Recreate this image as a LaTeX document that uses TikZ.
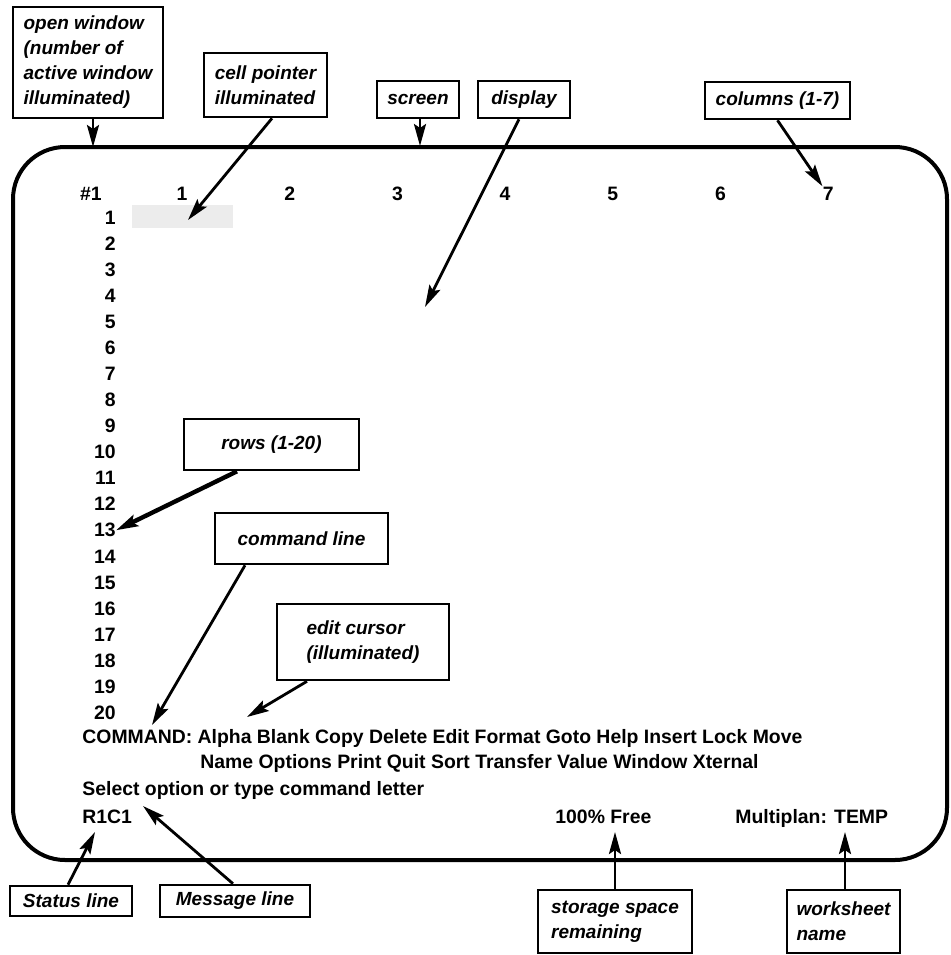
\documentclass[tikz,border=0pt]{standalone}
\usepackage{fontspec}
\setmainfont{Liberation Sans}
\usetikzlibrary{arrows.meta}

\tikzset{
  callout/.style={draw, line width=1.3pt, inner sep=0pt, align=left,
    font=\fontsize{9.5}{12.5}\selectfont\bfseries\itshape},
  scrtxt/.style={inner sep=0pt, font=\fontsize{9.7}{12}\selectfont\bfseries},
  pointer/.style={line width=1.4pt, -{Stealth[length=11pt, width=6pt, inset=2pt]}},
}

\begin{document}
\begin{tikzpicture}[x=0.5pt, y=-0.5pt]
\useasboundingbox (0,0) rectangle (951,955);

% screen outline
\draw[line width=2pt, rounded corners=26pt] (13,147) rectangle (947,860);

% illuminated cell pointer
\fill[gray!15] (132,205) rectangle (233,228);

% column heads
\node[scrtxt, anchor=base] (win) at (91,200) {\#1};
\foreach \c in {1,...,7}
  \node[scrtxt, anchor=base] (col\c) at ({182+107.7*(\c-1)},200) {\c};

% row numbers
\foreach \r in {1,...,20}
  \node[scrtxt, anchor=base east] (row\r) at (116,{224+26.08*(\r-1)}) {\r};

% command, message and status lines
\node[scrtxt, anchor=base west] (cmd) at (82,743)
{COMMAND: Alpha Blank Copy Delete Edit Format Goto Help Insert Lock Move};
\node[scrtxt, anchor=base west] (cmdtwo) at (200,768)
{Name Options Print Quit Sort Transfer Value Window Xternal};
\node[scrtxt, anchor=base west] (msg) at (82,795)
{Select option or type command letter};
\node[scrtxt, anchor=base west] (rc) at (82,823) {R1C1};
\node[scrtxt, anchor=base west] (free) at (555,823) {100\% Free};
\node[scrtxt, anchor=base west] (name) at (735,823) {Multiplan: TEMP};

% callout boxes
\node[callout, minimum width=75pt, minimum height=55.5pt] (open) at (88,62.5)
{open window\\(number of\\active window\\illuminated)};
\node[callout, minimum width=61.5pt, minimum height=32pt] (cell) at (265.5,85)
{cell pointer\\illuminated};
\node[callout, minimum width=41pt, minimum height=18.5pt] (screen) at (418,99.5)
{screen};
\node[callout, minimum width=46pt, minimum height=18.5pt] (display) at (524,99.5)
{display};
\node[callout, minimum width=72.5pt, minimum height=18.5pt] (columns) at (777.5,100.5)
{columns (1-7)};
\node[callout, minimum width=87.5pt, minimum height=25.5pt] (rows) at (271.5,444.5)
{rows (1-20)};
\node[callout, minimum width=86.5pt, minimum height=25.5pt] (cmdline) at (301.5,538.5)
{command line};
\node[callout, minimum width=86pt, minimum height=38pt] (edit) at (363,642)
{edit cursor\\(illuminated)};
\node[callout, minimum width=61pt, minimum height=15pt] (status) at (71,901)
{Status line};
\node[callout, minimum width=75pt, minimum height=16pt] (message) at (235,901)
{Message line};
\node[callout, minimum width=77pt, minimum height=31.5pt] (storage) at (615,921.5)
{storage space\\remaining};
\node[callout, minimum width=56.5pt, minimum height=31.5pt] (sheet) at (843.5,921.5)
{worksheet\\name};

% arrow tips
\coordinate (otip) at (93,147);
\coordinate (ctip) at (188,220);
\coordinate (stip) at (420,146);
\coordinate (dtip) at (425,307);
\coordinate (cmdtip) at (152,725);
\coordinate (etip) at (247,717);
\coordinate (sttip) at (95,832);
\coordinate (mtip) at (143,806);
\coordinate (ftip) at (615,832);
\coordinate (ntip) at (845,832);

% pointers
\draw[pointer] (open.south -| otip) -- (otip);
\draw[pointer] ([xshift=3.25pt]cell.south) -- (ctip);
\draw[pointer] (screen.south -| stip) -- (stip);
\draw[pointer] ([xshift=-2.5pt]display.south) -- (dtip);
\draw[pointer] (columns.south) -- (col7.north west);
\draw[pointer, line width=2.2pt] ([xshift=-17.25pt]rows.south) -- (row13.east);
\draw[pointer] ([xshift=-28.25pt]cmdline.south) -- (cmdtip);
\draw[pointer] ([xshift=-28pt]edit.south) -- (etip);
\draw[pointer] ([xshift=-1.5pt]status.north) -- (sttip);
\draw[pointer] ([xshift=-1pt]message.north) -- (mtip);
\draw[pointer] (storage.north -| ftip) -- (ftip);
\draw[pointer] (sheet.north -| ntip) -- (ntip);

\end{tikzpicture}
\end{document}
